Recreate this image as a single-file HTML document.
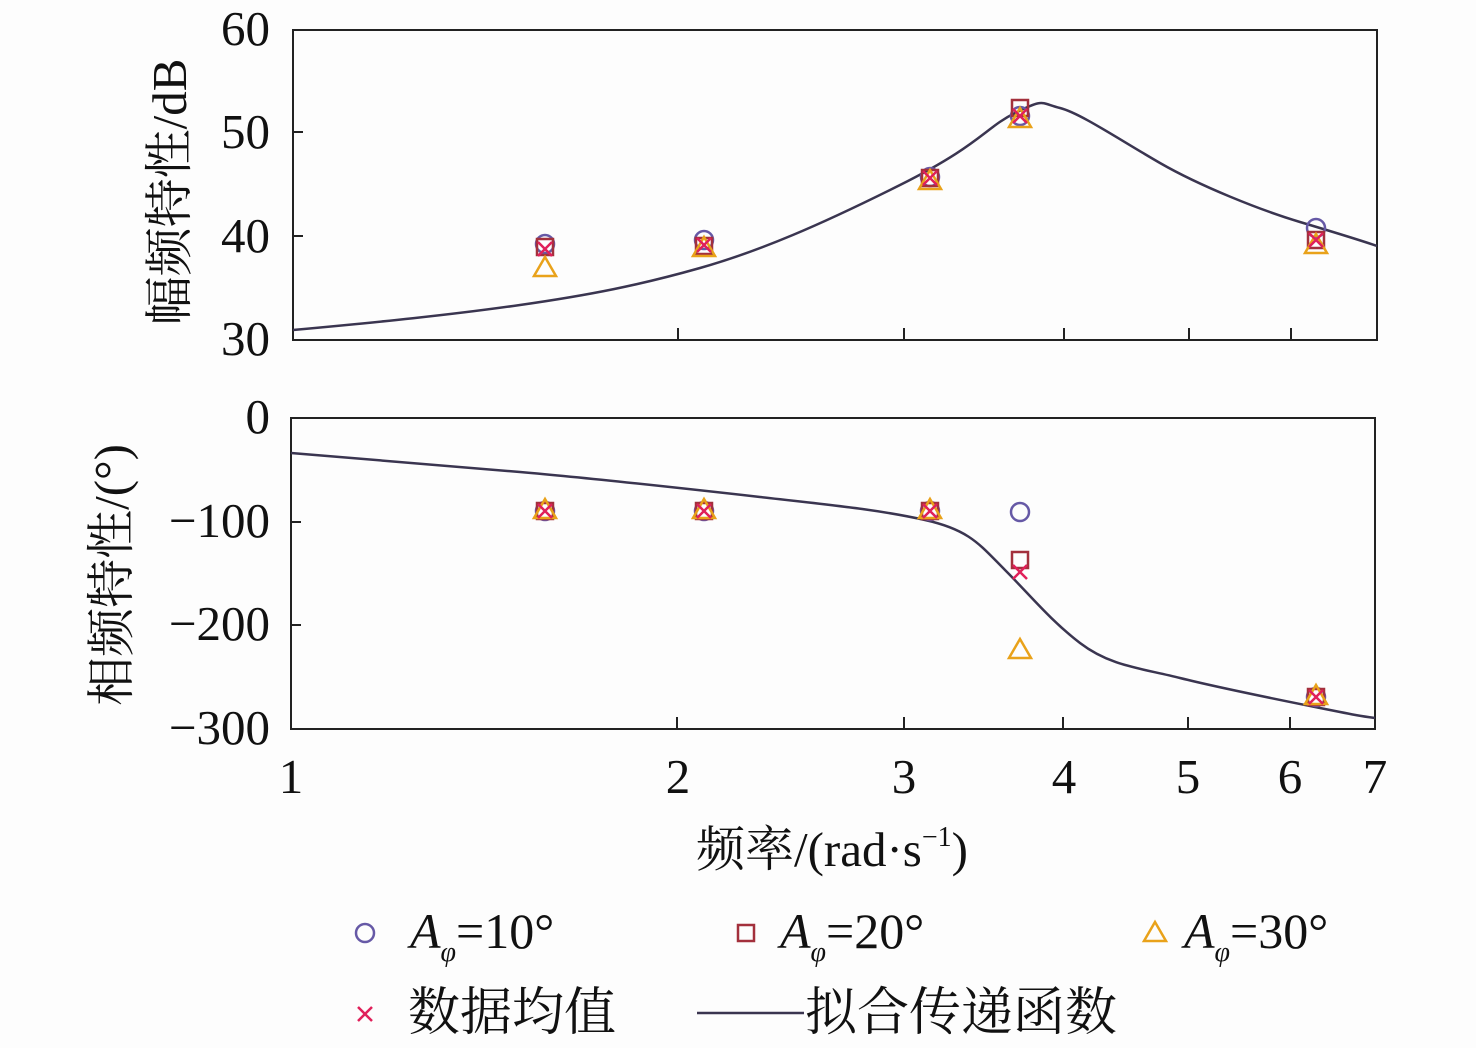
<!DOCTYPE html>
<html><head><meta charset="utf-8"><style>
html,body{margin:0;padding:0;background:#fdfdfd;}
svg text{font-family:"Liberation Serif","Noto Serif CJK SC",serif;fill:#111;}
</style></head><body>
<svg width="1476" height="1043" viewBox="0 0 1476 1043" xmlns="http://www.w3.org/2000/svg">
<defs>
<g id="ci"><circle r="9" fill="none" stroke="#6659a6" stroke-width="2.5"/></g>
<g id="sq"><rect x="-8" y="-8" width="16" height="16" fill="none" stroke="#a3303c" stroke-width="2.5"/></g>
<g id="tr"><polygon points="0,-11 11,8 -11,8" fill="none" stroke="#e9a21a" stroke-width="2.5"/></g>
<g id="xx"><path d="M-7,-7L7,7M-7,7L7,-7" stroke="#e0205a" stroke-width="2.5"/></g>
</defs>
<rect x="293" y="30" width="1084" height="310" fill="none" stroke="#222" stroke-width="2"/>
<g stroke="#222" stroke-width="2">
<path d="M678,340v-12M904,340v-12M1064,340v-12M1189,340v-12M1291,340v-12"/>
<path d="M293,132h10M293,236h10"/>
</g>
<g font-size="49" text-anchor="end">
<text x="270" y="45">60</text><text x="270" y="148">50</text>
<text x="270" y="252">40</text><text x="270" y="355">30</text>
</g>
<text transform="translate(186,192) rotate(-90)" font-size="49" text-anchor="middle">幅频特性/dB</text>
<path d="M293,330 C380,322 450,315 520,305 S640,285 700,268 S820,225 900,185 S985,128 1015,113 S1040,103 1060,108 S1120,140 1160,163 S1260,210 1300,222 S1360,240 1377,246" fill="none" stroke="#3a3550" stroke-width="2.5"/>
<use href="#ci" x="545" y="244"/><use href="#sq" x="545" y="247"/><use href="#tr" x="545" y="268"/><use href="#xx" x="545" y="249"/>
<use href="#ci" x="704" y="240"/><use href="#sq" x="704" y="246"/><use href="#tr" x="704" y="248"/><use href="#xx" x="704" y="245"/>
<use href="#ci" x="930" y="177"/><use href="#sq" x="930" y="178"/><use href="#tr" x="930" y="181"/><use href="#xx" x="930" y="178"/>
<use href="#ci" x="1020" y="116"/><use href="#sq" x="1020" y="108"/><use href="#tr" x="1020" y="119"/><use href="#xx" x="1020" y="116"/>
<use href="#ci" x="1316" y="228"/><use href="#sq" x="1316" y="240"/><use href="#tr" x="1316" y="245"/><use href="#xx" x="1316" y="240"/>
<rect x="291" y="418" width="1084" height="311" fill="none" stroke="#222" stroke-width="2"/>
<g stroke="#222" stroke-width="2">
<path d="M677,729v-12M904,729v-12M1063,729v-12M1188,729v-12M1290,729v-12"/>
<path d="M291,522h10M291,625h10"/>
</g>
<g font-size="49" text-anchor="end">
<text x="270" y="433">0</text><text x="270" y="537">−100</text>
<text x="270" y="640">−200</text><text x="270" y="744">−300</text>
</g>
<text transform="translate(128,575) rotate(-90)" font-size="49" text-anchor="middle">相频特性/(°)</text>
<path d="M291,453 C380,460 450,466 520,472 S680,488 760,497 S880,510 925,520 S980,545 1005,570 S1050,620 1080,643 S1140,668 1180,678 S1280,700 1320,708 S1360,716 1375,718" fill="none" stroke="#3a3550" stroke-width="2.5"/>
<use href="#ci" x="545" y="511"/><use href="#sq" x="545" y="511"/><use href="#tr" x="545" y="510"/><use href="#xx" x="545" y="511"/>
<use href="#ci" x="704" y="511"/><use href="#sq" x="704" y="511"/><use href="#tr" x="704" y="510"/><use href="#xx" x="704" y="511"/>
<use href="#ci" x="930" y="511"/><use href="#sq" x="930" y="511"/><use href="#tr" x="930" y="510"/><use href="#xx" x="930" y="511"/>
<use href="#ci" x="1020" y="512"/><use href="#sq" x="1020" y="560"/><use href="#xx" x="1020" y="572"/><use href="#tr" x="1020" y="650"/>
<use href="#ci" x="1316" y="697"/><use href="#sq" x="1316" y="697"/><use href="#tr" x="1316" y="696"/><use href="#xx" x="1316" y="697"/>
<g font-size="49" text-anchor="middle">
<text x="291" y="793">1</text><text x="678" y="793">2</text><text x="904" y="793">3</text>
<text x="1064" y="793">4</text><text x="1188" y="793">5</text><text x="1290" y="793">6</text><text x="1375" y="793">7</text>
</g>
<text x="832" y="866" font-size="49" text-anchor="middle">频率/(rad·s<tspan font-size="28" dy="-20">−1</tspan><tspan dy="20">)</tspan></text>
<use href="#ci" x="365" y="933"/>
<text x="410" y="948" font-size="50"><tspan font-style="italic">A</tspan><tspan font-style="italic" font-size="28" dy="13">φ</tspan><tspan dy="-13">=10°</tspan></text>
<use href="#sq" x="746" y="933"/>
<text x="780" y="948" font-size="50"><tspan font-style="italic">A</tspan><tspan font-style="italic" font-size="28" dy="13">φ</tspan><tspan dy="-13">=20°</tspan></text>
<use href="#tr" x="1155" y="933"/>
<text x="1184" y="948" font-size="50"><tspan font-style="italic">A</tspan><tspan font-style="italic" font-size="28" dy="13">φ</tspan><tspan dy="-13">=30°</tspan></text>
<use href="#xx" x="365" y="1014"/>
<text x="408" y="1030" font-size="52">数据均值</text>
<path d="M697,1013H804" stroke="#3a3550" stroke-width="2.5"/>
<text x="805" y="1030" font-size="52">拟合传递函数</text>
</svg>
</body></html>
